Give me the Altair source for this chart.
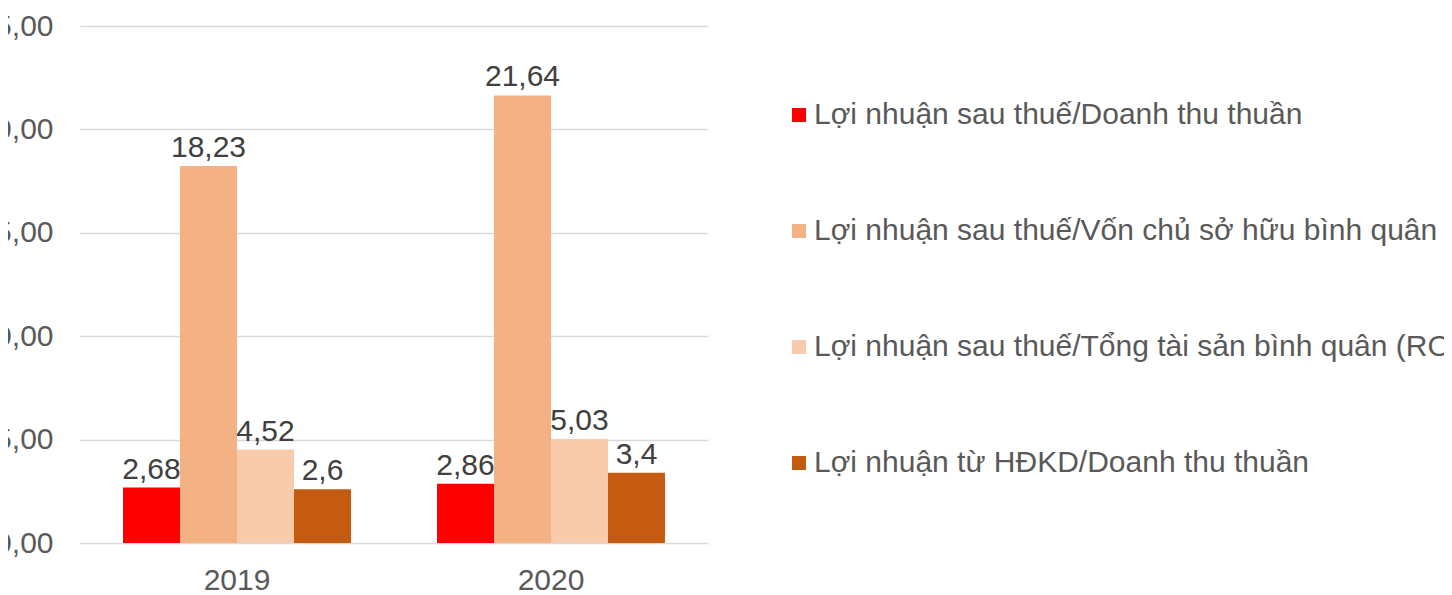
import altair as alt
import pandas as pd

years = ["2019", "2020"]
series = [
    "Lợi nhuận sau thuế/Doanh thu thuần",
    "Lợi nhuận sau thuế/Vốn chủ sở hữu bình quân (ROE)",
    "Lợi nhuận sau thuế/Tổng tài sản bình quân (ROA)",
    "Lợi nhuận từ HĐKD/Doanh thu thuần",
]
s1_values = [2.68, 2.86]
s2_values = [18.23, 21.64]
s3_values = [4.52, 5.03]
s4_values = [2.6, 3.4]
colors = ["#FF0000", "#F4B183", "#F8CBAD", "#C55A11"]
y_ticks = [0, 5, 10, 15, 20, 25]

rows = []
for name, vals in zip(series, [s1_values, s2_values, s3_values, s4_values]):
    for yr, v in zip(years, vals):
        rows.append({"year": yr, "series": name, "value": v,
                     "label": str(v).replace(".", ",")})
df = pd.DataFrame(rows)

FONT = "Liberation Sans"
FS = 30

base = alt.Chart(df).encode(
    x=alt.X("year:N", sort=years,
            scale=alt.Scale(paddingInner=0.274, paddingOuter=0.137),
            axis=alt.Axis(title=None, labelAngle=0, domain=False, ticks=False,
                          labelFontSize=FS, labelColor="#595959", labelFont=FONT,
                          labelBaseline="alphabetic", labelPadding=46)),
    xOffset=alt.XOffset("series:N", sort=series,
                        scale=alt.Scale(paddingInner=0, paddingOuter=0)),
    y=alt.Y("value:Q", scale=alt.Scale(domain=[0, 25], nice=False),
            axis=alt.Axis(values=y_ticks, title=None, domain=False, ticks=False,
                          grid=True, gridColor="#D9D9D9", gridWidth=1.5,
                          labelExpr="replace(format(datum.value, '.2f'), '.', ',')",
                          labelFontSize=FS, labelColor="#595959", labelFont=FONT,
                          labelPadding=27)),
)

bars = base.mark_bar().encode(
    color=alt.Color("series:N", sort=series,
                    scale=alt.Scale(domain=series, range=colors),
                    legend=alt.Legend(title=None, orient="none", legendX=704, legendY=74,
                                      direction="vertical", symbolType="square",
                                      symbolSize=196, symbolStrokeWidth=0,
                                      labelFontSize=FS, labelColor="#595959",
                                      labelFont=FONT, labelOffset=0, rowPadding=86,
                                      labelLimit=3000)),
)

text = base.mark_text(baseline="alphabetic", dy=-9, fontSize=FS,
                      color="#404040", font=FONT).encode(text="label:N")

chart = alt.layer(bars, text).properties(
    width=628, height=517,
    autosize=alt.AutoSizeParams(type="none"),
    padding={"left": 72, "top": 18, "right": 736, "bottom": 64},
    background="white",
).configure_view(stroke=None)

chart.save("out.html", embed_options={"renderer": "svg", "actions": False})
